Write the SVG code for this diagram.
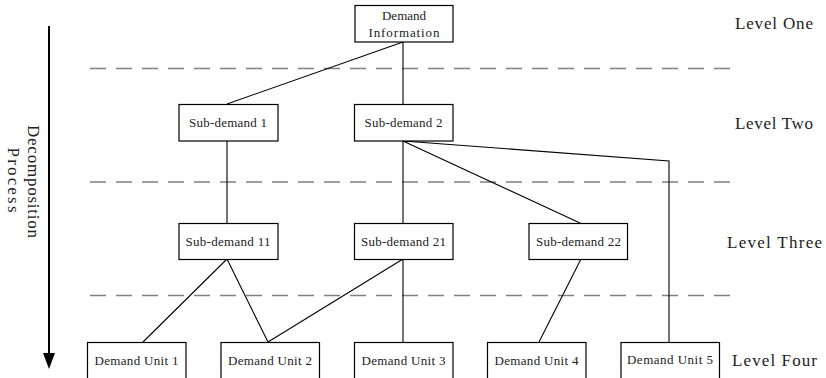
<svg xmlns="http://www.w3.org/2000/svg" width="826" height="378" viewBox="0 0 826 378">
<defs>
<style>
.box{fill:#fff;stroke:#000;stroke-width:1.2}
.t{font-family:"Liberation Serif",serif;font-size:13px;fill:#222;text-anchor:middle}
.lv{font-family:"Liberation Serif",serif;font-size:17px;fill:#222}
.dash{stroke:#808080;stroke-width:1.3;stroke-dasharray:16 10;fill:none}
.c{stroke:#000;stroke-width:1.1;fill:none}
</style>
</defs>
<rect width="826" height="378" fill="#fff"/>
<g id="dividers">
<line class="dash" x1="90" y1="68.5" x2="732" y2="68.5"/>
<line class="dash" x1="90" y1="182" x2="732" y2="182"/>
<line class="dash" x1="90" y1="295.5" x2="732" y2="295.5"/>
</g>
<g id="connectors">
<line class="c" x1="403" y1="42" x2="227" y2="104"/>
<line class="c" x1="403" y1="42" x2="403" y2="104"/>
<line class="c" x1="227" y1="141" x2="227" y2="223"/>
<line class="c" x1="403" y1="141" x2="403" y2="223"/>
<line class="c" x1="403" y1="141" x2="580" y2="223"/>
<polyline class="c" points="403,141 669,161 669,342"/>
<line class="c" x1="227" y1="259" x2="143" y2="342"/>
<line class="c" x1="227" y1="259" x2="268" y2="342"/>
<line class="c" x1="403" y1="259" x2="268" y2="342"/>
<line class="c" x1="403" y1="259" x2="403" y2="342"/>
<line class="c" x1="581" y1="259" x2="539" y2="342"/>
</g>
<g id="process-arrow">
<line x1="49" y1="26" x2="49" y2="354" stroke="#000" stroke-width="2"/>
<path d="M43,353 L55,353 L49,369 Z" fill="#000"/>
<text class="lv" transform="translate(28,181.5) rotate(90)" text-anchor="middle" font-size="16" textLength="113" lengthAdjust="spacing">Decomposition</text>
<text class="lv" transform="translate(7.5,180) rotate(90)" text-anchor="middle" font-size="16" textLength="65" lengthAdjust="spacing">Process</text>
</g>
<g id="demand-information">
<rect class="box" x="355" y="5.5" width="98" height="36.5"/>
<text class="t" x="404" y="20">Demand</text>
<text class="t" x="404" y="36.5" textLength="71">Information</text>
</g>
<g id="sub-demand-1">
<rect class="box" x="179" y="104.5" width="99" height="36.5"/>
<text class="t" x="228" y="127" textLength="78">Sub-demand 1</text>
</g>
<g id="sub-demand-2">
<rect class="box" x="354.5" y="104.5" width="98.5" height="36.5"/>
<text class="t" x="403.5" y="127" textLength="78">Sub-demand 2</text>
</g>
<g id="sub-demand-11">
<rect class="box" x="179" y="223.5" width="99" height="36"/>
<text class="t" x="228" y="246" textLength="85">Sub-demand 11</text>
</g>
<g id="sub-demand-21">
<rect class="box" x="354.5" y="223.5" width="98.5" height="36"/>
<text class="t" x="403.5" y="246" textLength="85">Sub-demand 21</text>
</g>
<g id="sub-demand-22">
<rect class="box" x="529" y="223.5" width="98.5" height="36"/>
<text class="t" x="578.5" y="246" textLength="85">Sub-demand 22</text>
</g>
<g id="demand-unit-1">
<rect class="box" x="87.5" y="342.5" width="98.5" height="45"/>
<text class="t" x="136.5" y="364.5" textLength="84">Demand Unit 1</text>
</g>
<g id="demand-unit-2">
<rect class="box" x="221" y="342.5" width="98.5" height="45"/>
<text class="t" x="270" y="364.5" textLength="84">Demand Unit 2</text>
</g>
<g id="demand-unit-3">
<rect class="box" x="354.5" y="342.5" width="98.5" height="45"/>
<text class="t" x="403.5" y="364.5" textLength="84">Demand Unit 3</text>
</g>
<g id="demand-unit-4">
<rect class="box" x="487.5" y="342.5" width="98.5" height="45"/>
<text class="t" x="536.5" y="364.5" textLength="84">Demand Unit 4</text>
</g>
<g id="demand-unit-5">
<rect class="box" x="621" y="342.5" width="98.5" height="45"/>
<text class="t" x="670" y="364" font-size="12" textLength="86">Demand Unit 5</text>
</g>
<g id="levels">
<text class="lv" x="735" y="29" textLength="78">Level One</text>
<text class="lv" x="735" y="129" textLength="78">Level Two</text>
<text class="lv" x="727" y="247.5" textLength="95">Level Three</text>
<text class="lv" x="732" y="366" textLength="85">Level Four</text>
</g>
</svg>
